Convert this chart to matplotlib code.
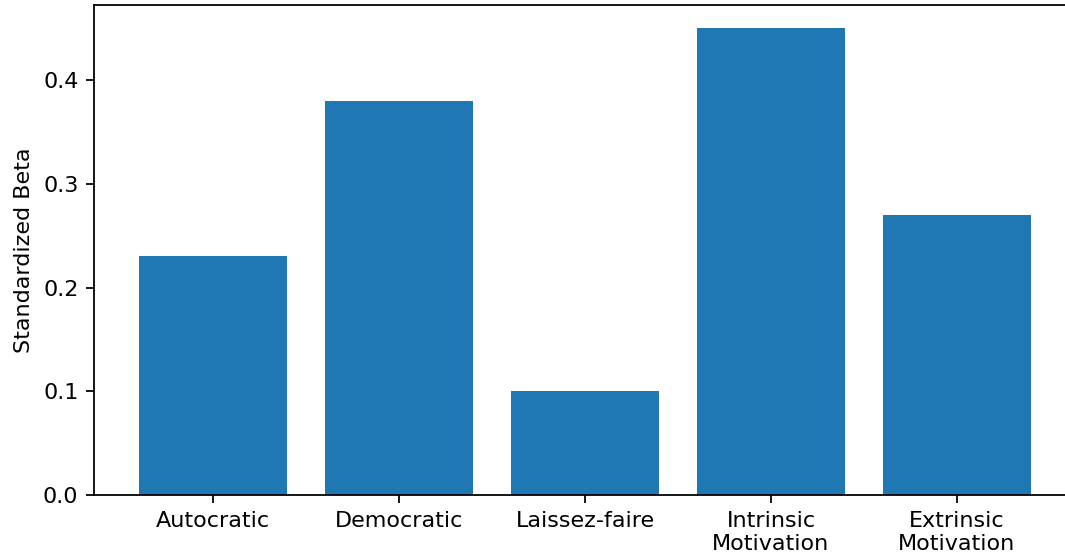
import matplotlib
matplotlib.use("Agg")
import matplotlib.pyplot as plt

# standardized regression coefficients per predictor
predictors = ["Autocratic", "Democratic", "Laissez-faire",
              "Intrinsic\nMotivation", "Extrinsic\nMotivation"]
beta = [0.23, 0.38, 0.10, 0.45, 0.27]

dpi = 160
fig = plt.figure(figsize=(1065 / dpi, 558 / dpi), dpi=dpi)
# axes runs a little past the right edge of the canvas
ax = fig.add_axes([94 / 1065, 63 / 558, 982 / 1065, 490 / 558])

ax.bar(predictors, beta, color="#1f77b4")
ax.set_ylabel("Standardized Beta")

fig.savefig("out.png", dpi=dpi)
